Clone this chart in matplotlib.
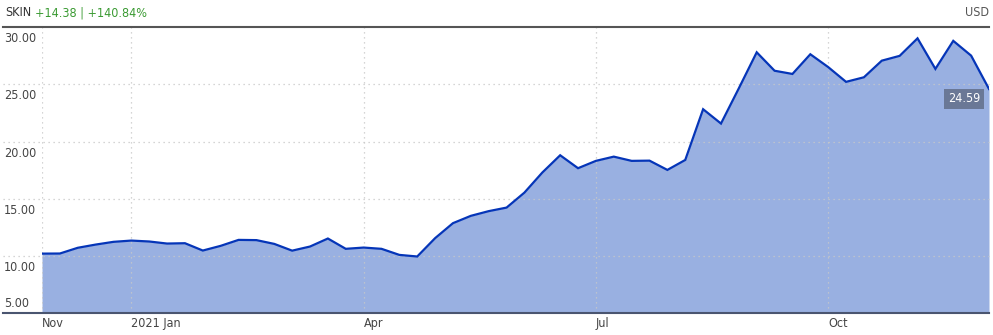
import matplotlib
matplotlib.use("Agg")
import matplotlib.pyplot as plt
import matplotlib.transforms as mtransforms
import numpy as np
import pandas as pd

plt.rcParams['font.family'] = ['DejaVu Sans']
plt.rcParams['font.stretch'] = 'condensed'

# ---- data ----
ticker = "SKIN"
change_abs = "+14.38"
change_pct = "+140.84%"
currency = "USD"
start_date = "2020-11-27"
prices = [10.21, 10.22, 10.72, 11.00, 11.24, 11.35, 11.27, 11.09, 11.12, 10.48,
          10.89, 11.41, 11.39, 11.06, 10.47, 10.83, 11.53, 10.63, 10.74, 10.63,
          10.10, 9.96, 11.56, 12.87, 13.51, 13.92, 14.23, 15.54, 17.29, 18.80,
          17.67, 18.31, 18.68, 18.31, 18.33, 17.52, 18.39, 22.82, 21.57, 24.65,
          27.79, 26.18, 25.90, 27.62, 26.50, 25.21, 25.61, 27.06, 27.48, 29.01,
          26.34, 28.79, 27.50, 24.59]
y_ticks = [5, 10, 15, 20, 25, 30]
y_tick_labels = ["5.00", "10.00", "15.00", "20.00", "25.00", "30.00"]
x_tick_months = [(2021, 1), (2021, 4), (2021, 7), (2021, 10)]
x_tick_labels = ["Nov", "2021 Jan", "Apr", "Jul", "Oct"]

dates = pd.date_range(start_date, periods=len(prices), freq="7D")
s = pd.Series(prices, index=dates)

W, H = 993, 335
fig = plt.figure(figsize=(W / 100, H / 100), dpi=100)
L, R, T, B = 42, 989, 27, 313.3
ax = fig.add_axes([L / W, (H - B) / H, (R - L) / W, (B - T) / H])

FS = 9
fill_c = "#99b0e1"
line_c = "#0535b8"
ax.fill_between(s.index, s.values, 5, color=fill_c, lw=0, zorder=1)
ax.plot(s.index, s.values, color=line_c, lw=1.6, zorder=3, solid_joinstyle="miter")

ax.set_xlim(s.index[0], s.index[-1])
ax.set_ylim(y_ticks[0], y_ticks[-1])

# x ticks: first data point and first weekly point of each quarter month
tick_dates = [s.index[0]]
for (yy, mm) in x_tick_months:
    sel = s.index[(s.index.year == yy) & (s.index.month == mm)]
    tick_dates.append(sel[0])
ax.set_xticks(tick_dates)
ax.set_xticklabels(x_tick_labels, ha="left", fontsize=FS, color="#444444")
ax.tick_params(axis="x", length=0, pad=3)
ax.set_yticks([])

for sp in ax.spines.values():
    sp.set_visible(False)

grid_c = "#c8c8c8"
# vertical dotted gridlines
for d in tick_dates:
    ax.axvline(d, color=grid_c, lw=0.9, ls=(0, (1, 3)), zorder=2)

# horizontal dotted gridlines extending to the left over labels
xmin_ext = -(L - 3) / (R - L)
for v in y_ticks[1:-1]:
    ax.axhline(v, xmin=xmin_ext, xmax=1, color=grid_c, lw=0.9, ls=(0, (1, 3)),
               zorder=2, clip_on=False)
# top and bottom solid rules
ax.axhline(y_ticks[-1], xmin=xmin_ext, xmax=1, color="#555555", lw=1.5, zorder=4, clip_on=False)
ax.axhline(y_ticks[0], xmin=xmin_ext, xmax=1, color="#4a5570", lw=1.5, zorder=4, clip_on=False)

# y labels
trans = mtransforms.blended_transform_factory(fig.transFigure, ax.transData)
for v, lab in zip(y_ticks, y_tick_labels):
    if v == y_ticks[0]:
        off = mtransforms.ScaledTranslation(0, 3 / 100, fig.dpi_scale_trans)
        ax.text(4 / W, v, lab, transform=trans + off, ha="left", va="bottom",
                fontsize=FS, color="#444444", clip_on=False)
    else:
        off = mtransforms.ScaledTranslation(0, -5 / 100, fig.dpi_scale_trans)
        ax.text(4 / W, v, lab, transform=trans + off, ha="left", va="top",
                fontsize=FS, color="#444444", clip_on=False)

# header
fig.text(5 / W, 1 - 13 / H, ticker, ha="left", va="center", fontsize=FS, color="#333333")
fig.text(35 / W, 1 - 13 / H, f"{change_abs} | {change_pct}", ha="left", va="center",
         fontsize=FS, color="#3a9a32")
fig.text(989 / W, 1 - 13 / H, currency, ha="right", va="center", fontsize=FS, color="#555555")

# last value label
last = s.values[-1]
off = mtransforms.ScaledTranslation(-9 / 100, -10 / 100, fig.dpi_scale_trans)
ax.text(s.index[-1], last, f"{last:.2f}", transform=ax.transData + off,
        ha="right", va="center", fontsize=FS, color="white", zorder=6,
        bbox=dict(boxstyle="square,pad=0.3", fc="#6a7896", ec="none"))

fig.savefig("out.png", dpi=100)
